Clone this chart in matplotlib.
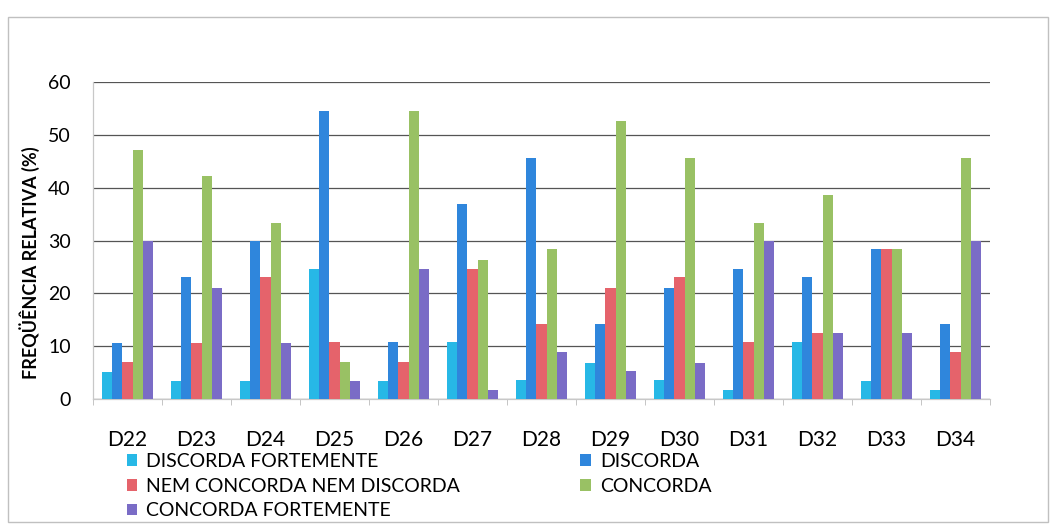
import matplotlib

matplotlib.use("Agg")
import matplotlib.pyplot as plt
import numpy as np
from matplotlib.patches import Rectangle

plt.rcParams["font.family"] = ["Lato", "DejaVu Sans"]

CATEGORIES = ["D22", "D23", "D24", "D25", "D26", "D27", "D28",
              "D29", "D30", "D31", "D32", "D33", "D34"]
SERIES = ["DISCORDA FORTEMENTE", "DISCORDA", "NEM CONCORDA NEM DISCORDA",
          "CONCORDA", "CONCORDA FORTEMENTE"]
DISCORDA_FORTEMENTE = [5.2, 3.5, 3.5, 24.7, 3.5, 10.7, 3.6, 6.9, 3.6, 1.7, 10.7, 3.5, 1.7]
DISCORDA = [10.6, 23.0, 30.0, 54.5, 10.7, 37.0, 45.6, 14.2, 21.1, 24.7, 23.0, 28.3, 14.2]
NEM_CONCORDA = [7.0, 10.6, 23.0, 10.7, 7.0, 24.7, 14.2, 21.1, 23.0, 10.7, 12.5, 28.3, 8.9]
CONCORDA = [47.2, 42.2, 33.4, 7.0, 54.5, 26.4, 28.3, 52.7, 45.6, 33.4, 38.7, 28.3, 45.6]
CONCORDA_FORTEMENTE = [29.9, 21.0, 10.6, 3.5, 24.7, 1.7, 8.9, 5.3, 6.9, 30.0, 12.5, 12.5, 30.0]
COLORS = ["#27b8e6", "#2f86dc", "#e5636b", "#99c164", "#7a6cc6"]

values = [DISCORDA_FORTEMENTE, DISCORDA, NEM_CONCORDA, CONCORDA, CONCORDA_FORTEMENTE]

fig = plt.figure(figsize=(10.55, 5.26), dpi=100, facecolor="white")
ax = fig.add_axes([0.0882, 0.2414, 0.8502, 0.6027])

x = np.arange(len(CATEGORIES))
width = 0.15
handles = []
for i, (name, vals, color) in enumerate(zip(SERIES, values, COLORS)):
    bars = ax.bar(x + (i - 2) * width, vals, width, color=color, label=name, zorder=3)
    handles.append(bars)

ax.set_xlim(-0.5, len(CATEGORIES) - 0.5)
ax.set_ylim(0, 60)
ax.set_yticks(range(0, 61, 10))
ax.yaxis.grid(True, color="#555555", linewidth=0.9, zorder=0)
ax.set_xticks(x)
ax.set_xticklabels(CATEGORIES)
ax.set_xticks(np.arange(-0.5, len(CATEGORIES)), minor=True)
ax.tick_params(axis="x", which="major", length=0, pad=22, labelsize=15)
ax.tick_params(axis="x", which="minor", length=4, color="#bbbbbb")
ax.tick_params(axis="y", length=0, pad=16, labelsize=14)
for side in ("top", "right"):
    ax.spines[side].set_visible(False)
for side in ("left", "bottom"):
    ax.spines[side].set_color("#c8c8c8")
    ax.spines[side].set_linewidth(0.9)

fig.text(0.028, 0.5, "FREQÜÊNCIA RELATIVA (%)", rotation=90, ha="center",
         va="center", fontsize=13, fontweight="bold")

# Excel-style legend: entries read left to right, row by row
order = [0, 2, 4, 1, 3]
fig.legend([handles[i] for i in order], [SERIES[i] for i in order],
           loc="upper left", bbox_to_anchor=(0.120, 0.139), ncol=2,
           frameon=False, fontsize=14, handlelength=0.55, handleheight=0.55,
           handletextpad=0.45, labelspacing=0.4, columnspacing=6.2,
           borderaxespad=0, borderpad=0)

fig.patches.append(Rectangle((8 / 1055, 4 / 526), 1040 / 1055, 505 / 526,
                             transform=fig.transFigure, fill=False,
                             edgecolor="#c0c0c0", linewidth=1.0))

fig.savefig("out.png", dpi=100, facecolor="white")
